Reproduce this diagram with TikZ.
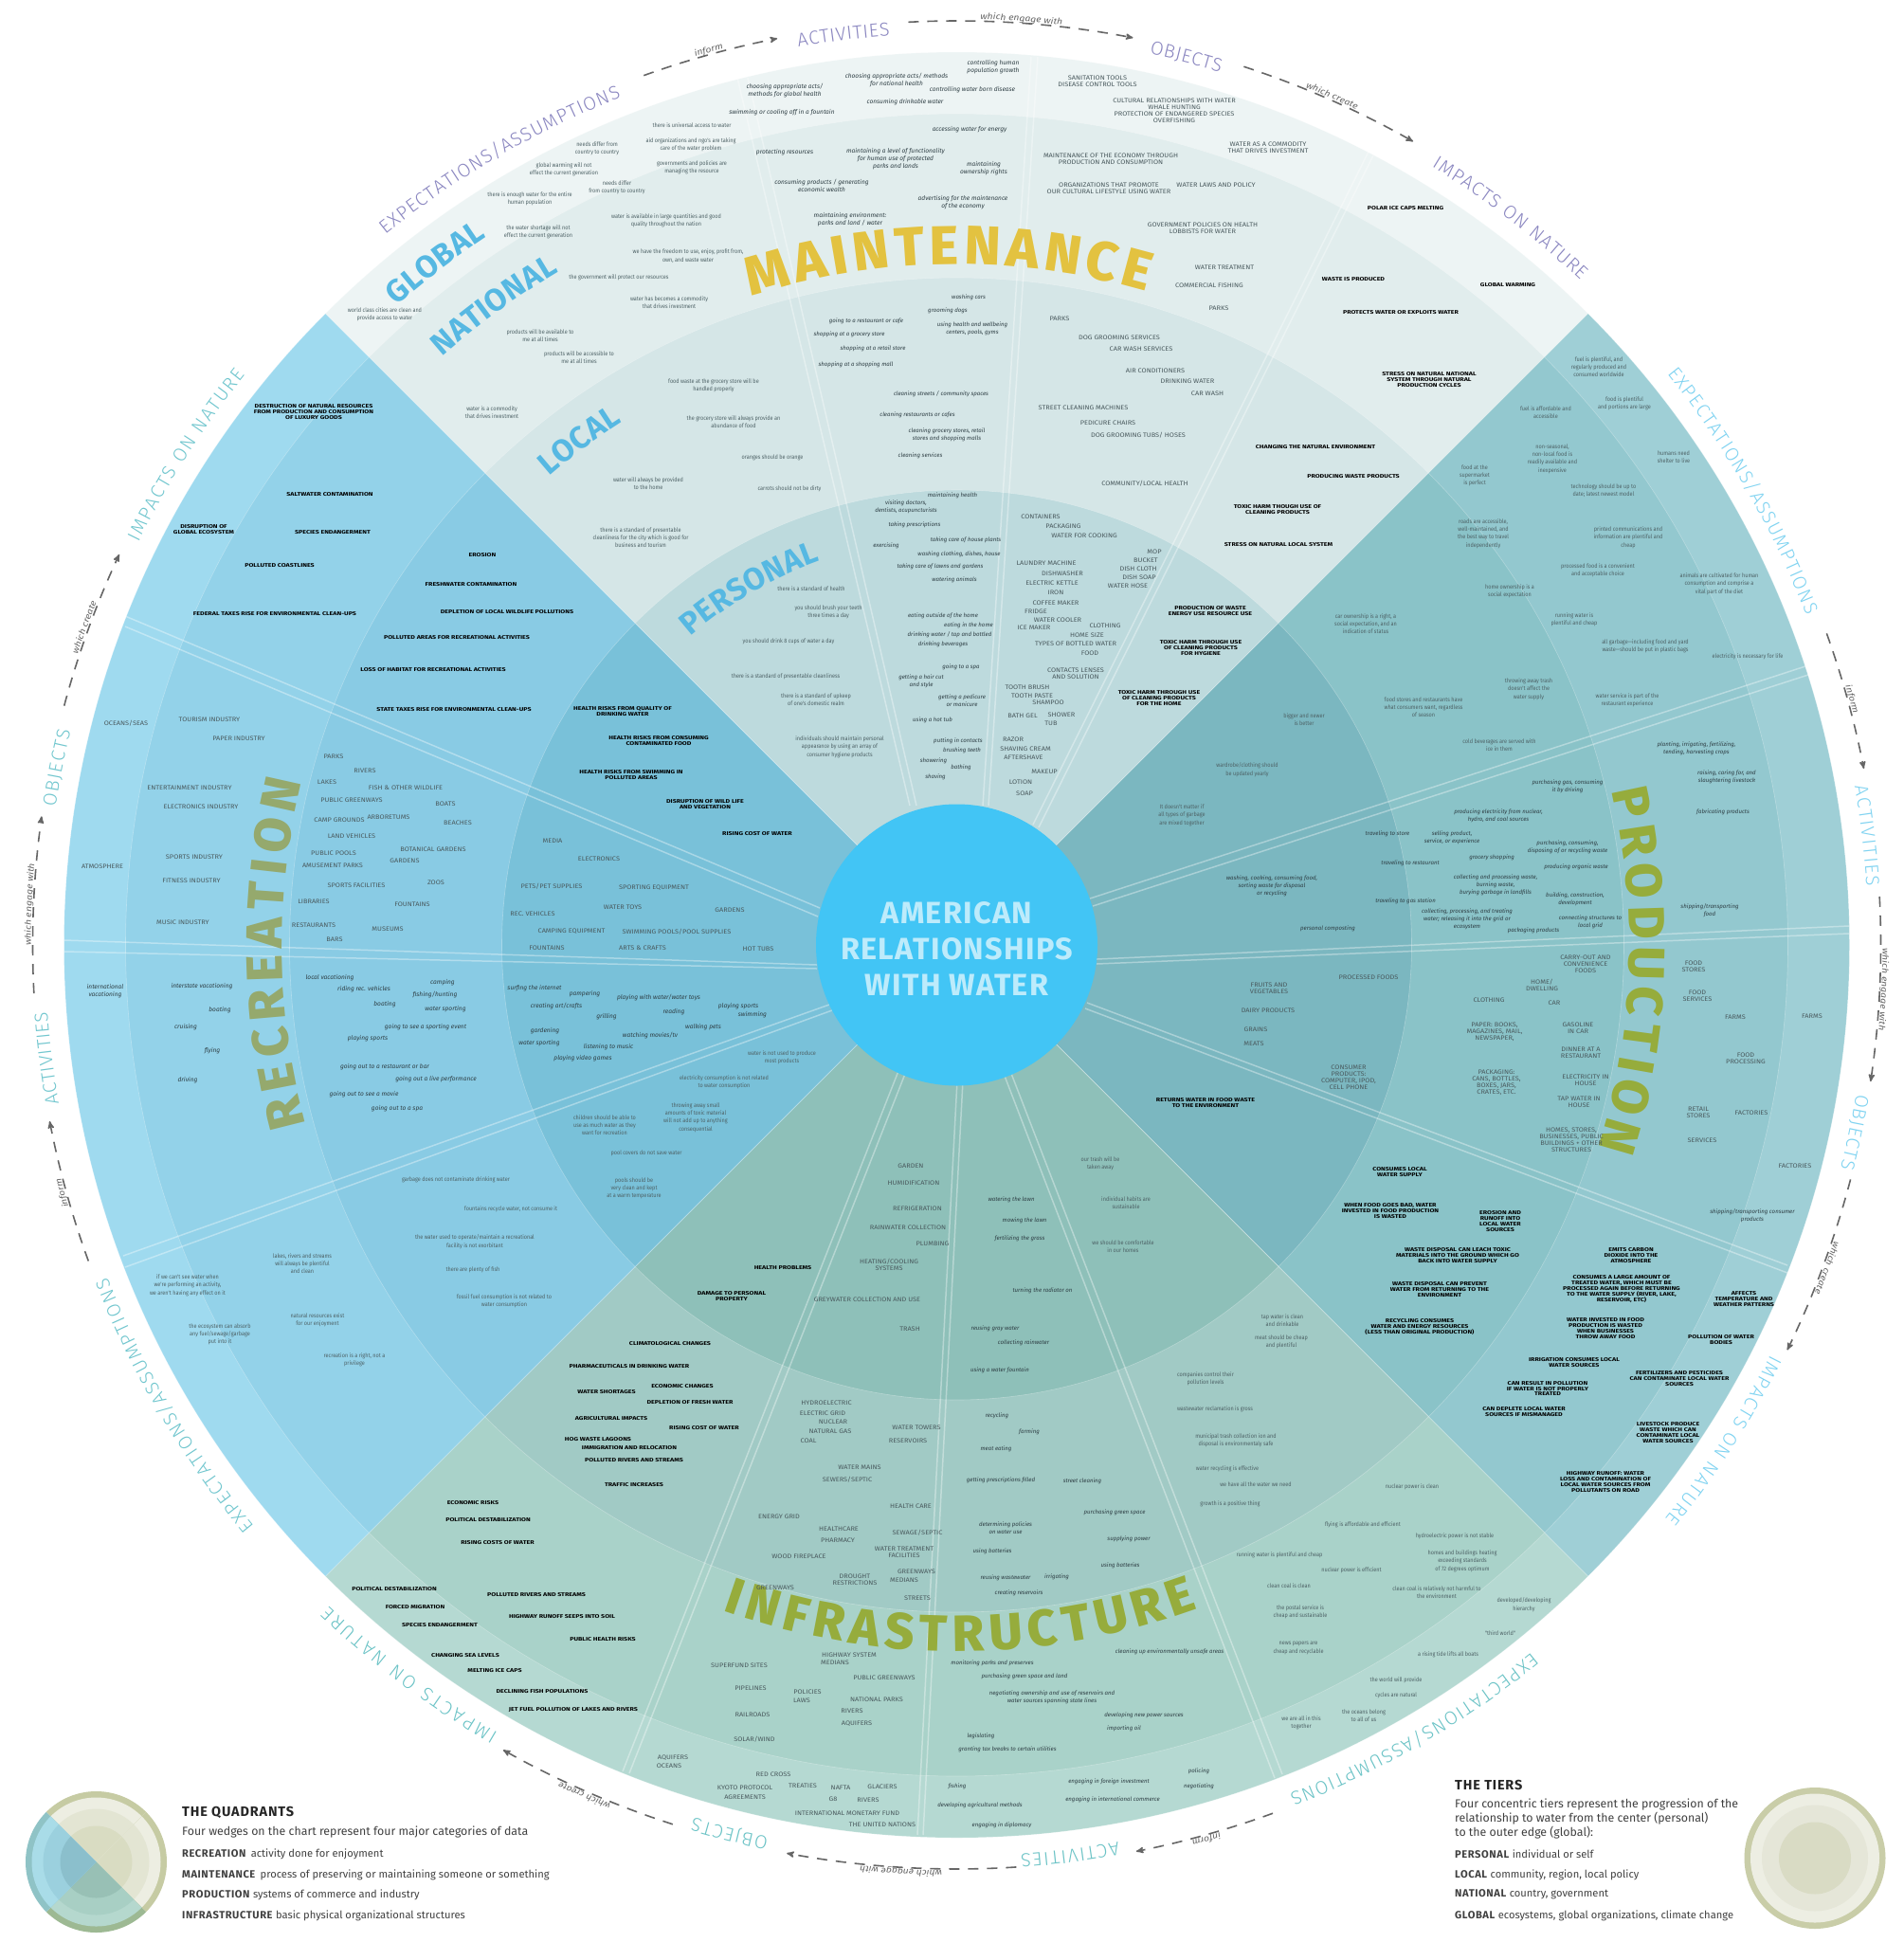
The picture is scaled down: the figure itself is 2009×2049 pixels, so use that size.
\documentclass[tikz,border=0pt]{standalone}
\usepackage{fontspec}
\usepackage{tikz}
\usetikzlibrary{
  calc,
  decorations.text,
  arrows
}
\setmainfont{Fira Sans}
\newfontfamily\saidface[FakeStretch=.88]{Fira Sans}
\newfontfamily\doingface{Fira Sans}
\newfontfamily\objectface[FakeStretch=1.12]{Fira Sans}
\newfontfamily\impactface[FakeStretch=1.27]{Fira Sans}
\newfontfamily\ringface{Fira Sans Light}
\newfontfamily\titleface{Fira Sans ExtraBold}
\newfontfamily\linkface[FakeStretch=1.15]{Fira Sans}
\definecolor{mainglobal}{HTML}{EDF4F4}
\definecolor{mainnational}{HTML}{E1EDED}
\definecolor{mainlocal}{HTML}{D5E6E7}
\definecolor{mainpersonal}{HTML}{BDDADD}
\definecolor{prodglobal}{HTML}{9FCFD6}
\definecolor{prodnational}{HTML}{93C8CF}
\definecolor{prodlocal}{HTML}{8AC3C8}
\definecolor{prodpersonal}{HTML}{7BB7C0}
\definecolor{infraglobal}{HTML}{B5D9D2}
\definecolor{infranational}{HTML}{A9D2C9}
\definecolor{infralocal}{HTML}{A1CAC5}
\definecolor{infrapersonal}{HTML}{8EC0B9}
\definecolor{recrglobal}{HTML}{9FDAEF}
\definecolor{recrnational}{HTML}{93D2E9}
\definecolor{recrlocal}{HTML}{89CBE4}
\definecolor{recrpersonal}{HTML}{79C1D9}
\definecolor{hubblue}{HTML}{42C5F5}
\definecolor{hubtext}{HTML}{BDEBFB}
\definecolor{gold}{HTML}{E3C240}
\definecolor{olive}{HTML}{96AC3C}
\definecolor{sage}{HTML}{95A96D}
\definecolor{tierblue}{HTML}{56B8E2}
\definecolor{ringtop}{HTML}{8A86C0}
\definecolor{ringright}{HTML}{7FD3F1}
\definecolor{ringbottom}{HTML}{6BC3C6}
\definecolor{ringleft}{HTML}{70C6CE}
\definecolor{linkgrey}{HTML}{666666}
\definecolor{saidgrey}{HTML}{4E6266}
\definecolor{objectgrey}{HTML}{4A5A5E}
\definecolor{doinggrey}{HTML}{2E3E44}
\newcommand{\titlegold}{\titleface\fontsize{58}{58}\selectfont\color{gold}}
\newcommand{\titleolive}{\titleface\fontsize{54}{54}\selectfont\color{olive}}
\newcommand{\titlesage}{\titleface\fontsize{54}{54}\selectfont\color{sage}}
\newcommand{\tiertype}{\bfseries\fontsize{33}{33}\selectfont\color{tierblue}}
\newcommand{\ringtype}{\ringface\fontsize{20}{20}\selectfont}
\newcommand{\linktype}{\linkface\itshape\fontsize{9}{9}\selectfont\color{linkgrey}}
\newcommand{\bendtext}[6][fit to path]{
    \path[decorate, decoration={text along path, text align={#1}, text={|#5|#6}}]
        (#2:#4) arc[start angle=#2, end angle=#3, radius=#4];
}
\newcommand{\ringlink}[4]{
    \coordinate (#4a) at (#1:975);
    \coordinate (#4b) at (#2:975);
    \draw[ringarrow] (#4a) arc[start angle=#1, end angle=#2, radius=975];
    \bendtext[center]{#1}{#2}{977}{\linktype}{#3}
}
\tikzset{
  wedgeedge/.style = {draw=white, draw opacity=.3, line width=.6},
  streak/.style = {draw=white, draw opacity=.36, line width=1.5},
  ringarrow/.style = {draw=linkgrey, line width=1.6, dash pattern=on 11bp off 9bp, ->, >=stealth'},
  saidtext/.style = {align=center, inner sep=0, text=saidgrey, font=\saidface\fontsize{6.3}{8.3}\selectfont},
  doingtext/.style = {align=center, inner sep=0, text=doinggrey, font=\doingface\itshape\fontsize{6.1}{7.8}\selectfont},
  doingwide/.style = {align=center, inner sep=0, text=doinggrey, font=\itshape\fontsize{6.6}{8}\selectfont},
  objecttext/.style = {align=center, inner sep=0, text=objectgrey, font=\objectface\fontsize{6.6}{7}\selectfont},
  impacttext/.style = {align=center, inner sep=0, text=black, font=\impactface\bfseries\fontsize{5.6}{6}\selectfont},
  hubdisc/.style = {circle, fill=hubblue, minimum size=297bp, inner sep=0},
  hubtitle/.style = {inner sep=0, align=center, text=hubtext,
    font=\addfontfeature{LetterSpace=4}\bfseries\fontsize{32.5}{38}\selectfont},
  legendhead/.style = {anchor=west, inner sep=0, text=black!85, font=\addfontfeature{LetterSpace=6}\bfseries\fontsize{14.5}{15}\selectfont},
  legendbody/.style = {anchor=west, inner sep=0, align=left, text=black!75, font=\fontsize{12.4}{15}\selectfont},
  legendterm/.style = {anchor=west, inner sep=0, text=black!75, font=\fontsize{11.2}{13}\selectfont}
}
\begin{document}
\begin{tikzpicture}[x=1bp, y=-1bp]
    \useasboundingbox (0,0) rectangle (2009,2049);
    \fill[white] (0,0) rectangle (2009,2049);

    \begin{scope}[shift={(1009.5,997)}, y=1bp]
        \foreach \from/\to/\wedge in {45/135/main, -45/45/prod, 225/315/infra, 135/225/recr}
            \foreach \radius/\tier in {942/global, 877/national, 704/local, 480/personal}
                \filldraw[wedgeedge, fill=\wedge\tier] (0,0) -- (\from:\radius)
                    arc[start angle=\from, end angle=\to, radius=\radius] -- cycle;
    \end{scope}

    \foreach \pa/\pb/\pc/\pd in {
        {960,850}/{778,82}/{967,850}/{789,82},
        {1037,850}/{1088,60}/{1043,850}/{1095,60},
        {1090,870}/{1444,160}/{1096,873}/{1449,164},
        {1150,948}/{1905,703}/{1153,956}/{1908,712},
        {1157,1012}/{1951,977}/{1157,1017}/{1951,985},
        {1147,1058}/{1886,1335}/{1145,1064}/{1886,1343},
        {1058,1130}/{1345,1876}/{1066,1130}/{1353,1872},
        {1010,1140}/{968,1936}/{1016,1140}/{974,1936},
        {948,1130}/{657,1869}/{955,1133}/{664,1871},
        {875,1060}/{130,1325}/{878,1066}/{132,1337},
        {862,1018}/{68,992}/{862,1022}/{68,1004},
        {865,958}/{132,650}/{863,967}/{132,661}}
        \draw[streak] (\pa) -- (\pb) (\pc) -- (\pd);

    \node[hubdisc] (hub) at (1009.5,997) {};
    \node[hubtitle] (hubname) at (1009.5,1001) {AMERICAN\\RELATIONSHIPS\\WITH WATER};

    \begin{scope}[shift={(1009.5,997)}, y=1bp]
        \bendtext{107.6}{73.8}{718}{\titlegold}{MAINTENANCE}
        \bendtext{13.2}{-17.6}{710}{\titleolive}{PRODUCTION}
        \bendtext{195.4}{166}{712}{\titlesage}{RECREATION}
        \bendtext{250.6}{290}{745}{\titleolive}{INFRASTRUCTURE}
        \bendtext{131.2}{123.6}{897}{\tiertype}{GLOBAL}
        \bendtext{131.2}{120.6}{825}{\tiertype}{NATIONAL}
        \bendtext{131}{122.6}{655}{\tiertype}{LOCAL}
        \bendtext{130.8}{109.6}{430}{\tiertype}{PERSONAL}

        \bendtext{128.8}{111.6}{962}{\ringtype\color{ringtop}}{EXPECTATIONS/ASSUMPTIONS}
        \bendtext{100}{94.2}{962}{\ringtype\color{ringtop}}{ACTIVITIES}
        \bendtext{77.8}{73.2}{962}{\ringtype\color{ringtop}}{OBJECTS}
        \bendtext{58.6}{46.8}{962}{\ringtype\color{ringtop}}{IMPACTS ON NATURE}
        \bendtext{38.8}{21.2}{962}{\ringtype\color{ringright}}{EXPECTATIONS/ASSUMPTIONS}
        \bendtext{10}{3.7}{962}{\ringtype\color{ringright}}{ACTIVITIES}
        \bendtext{-9.4}{-14.2}{962}{\ringtype\color{ringright}}{OBJECTS}
        \bendtext{-26.7}{-39}{962}{\ringtype\color{ringright}}{IMPACTS ON NATURE}
        \bendtext{-50.9}{-68.6}{962}{\ringtype\color{ringbottom}}{EXPECTATIONS/ASSUMPTIONS}
        \bendtext{-79.8}{-86}{962}{\ringtype\color{ringbottom}}{ACTIVITIES}
        \bendtext{-101.9}{-106.8}{962}{\ringtype\color{ringbottom}}{OBJECTS}
        \bendtext{-120.2}{-133.5}{962}{\ringtype\color{ringbottom}}{IMPACTS ON NATURE}
        \bendtext{219.6}{201.4}{962}{\ringtype\color{ringleft}}{EXPECTATIONS/ASSUMPTIONS}
        \bendtext{190}{184.2}{962}{\ringtype\color{ringleft}}{ACTIVITIES}
        \bendtext{171.3}{166.4}{962}{\ringtype\color{ringleft}}{OBJECTS}
        \bendtext{153.8}{141.3}{962}{\ringtype\color{ringleft}}{IMPACTS ON NATURE}

        \ringlink{109.8}{101.2}{inform}{topinform}
        \ringlink{93}{79}{which engage with}{topengage}
        \ringlink{71.9}{60.4}{which create}{topcreate}
        \ringlink{19.7}{11}{inform}{rightinform}
        \ringlink{3}{-8.5}{which engage with}{rightengage}
        \ringlink{-14.7}{-26}{which create}{rightcreate}
        \ringlink{-70}{-78.8}{inform}{bottominform}
        \ringlink{-86.3}{-100.6}{which engage with}{bottomengage}
        \ringlink{-107.9}{-119.4}{which create}{bottomcreate}
        \ringlink{200}{191}{inform}{leftinform}
        \ringlink{183}{172}{which engage with}{leftengage}
        \ringlink{165}{155}{which create}{leftcreate}
    \end{scope}

    \foreach \px/\py/\lbl [count=\i] in {
        730/132/{there is universal access to water},
        729/153/{aid organizations and ngo's are taking\\care of the water problem},
        630/157/{needs differ from\\country to country},
        730/177/{governments and policies are\\managing the resource},
        595/179/{global warming will not\\effect the current generation},
        651/198/{needs differ\\from country to country},
        559/210/{there is enough water for the entire\\human population},
        703/233/{water is available in large quantities and good\\quality throughout the nation},
        568/245/{the water shortage will not\\effect the current generation},
        726/270/{we have the freedom to use, enjoy, profit from,\\own, and waste water},
        653/293/{the  government will protect our resources},
        706/319/{water has becomes a commodity\\that drives investment},
        406/332/{world class cities are clean and\\provide access to water},
        570/354/{products will be available to\\me at all times},
        611/377/{products will be accessible to\\me at all times},
        753/407/{food waste at the grocery store will be\\handled properly},
        519/435/{water is a commodity\\that drives investment},
        774/445/{the grocery store will always provide an\\abundance of food},
        815/483/{oranges should be orange},
        684/510/{water will always be provided\\to the home},
        833/516/{carrots should not be dirty},
        676/567/{there is a standard of presentable\\cleanliness for the city which is good for\\business and tourism},
        856/621/{there is a standard of health},
        874/646/{you should brush your teeth\\three times a day},
        832/677/{you should drink 8 cups of water a day},
        829/714/{there is a standard of presentable cleanliness},
        861/738/{there is a standard of upkeep\\of one's domestic realm},
        886/788/{individuals should maintain personal\\appearance by using an array of\\consumer hygiene products},
        1687/387/{fuel is plentiful, and\\regularly produced and\\consumed worldwide},
        1714/426/{food is plentiful\\and portions are large},
        1631/435/{fuel is affordable and\\accessible},
        1766/482/{humans need\\shelter to live},
        1638/484/{non-seasonal,\\non-local food is\\readily available and\\inexpensive},
        1556/502/{food at the\\supermarket\\is perfect},
        1692/518/{technology should be up to\\date; latest newest model},
        1565/563/{roads are accessible,\\well-maintained, and\\the best way to travel\\independently},
        1718/567/{printed communications and\\information are plentiful and\\cheap},
        1686/602/{processed food is a convenient\\and acceptable choice},
        1814/616/{animals are cultivated for human\\consumption and comprise a\\vital part of the diet},
        1593/624/{home ownership is a\\social expectation},
        1661/654/{running water is\\plentiful and cheap},
        1736/682/{all garbage—including food and yard\\waste—should be put in plastic bags},
        1844/693/{electricity is necessary for life},
        1613/727/{throwing away trash\\doesn't affect the\\water supply},
        1717/739/{water service is part of the\\restaurant experience},
        1582/786/{cold beverages are served with\\ice in them},
        1441/658/{car ownership is a right, a\\social expectation, and an\\indication of status},
        1502/746/{food stores and restaurants have\\what consumers want, regardless\\of season},
        1376/759/{bigger and newer\\is better},
        1316/812/{wardrobe/clothing should\\be updated yearly},
        1247/860/{It doesn't matter if\\all types of garbage\\are mixed together},
        1161/1228/{our trash will be\\taken away},
        1188/1269/{individual habits are\\sustainable},
        1185/1315/{we should be comfortable\\in our homes},
        1353/1393/{tap water is clean\\and drinkable},
        1352/1416/{meat should be cheap\\and plentiful},
        1272/1455/{companies control their\\pollution levels},
        1282/1487/{wastewater reclamation is gross},
        1304/1520/{municipal trash collection ion and\\disposal is environmentaly safe},
        1295/1550/{water recycling is effective},
        1325/1566/{we have all the water we need},
        1298/1587/{growth is a positive thing},
        1490/1569/{nuclear power is clean},
        1438/1609/{flying is affordable and efficient},
        1535/1621/{hydroelectric power is not stable},
        1350/1641/{running water is plentiful and cheap},
        1543/1647/{homes and buildings heating\\exceeding standards\\of 72 degrees optimum},
        1426/1657/{nuclear power is efficient},
        1360/1673/{clean coal is clean},
        1516/1680/{clean coal is relatively not harmful to\\the environment},
        1372/1701/{the postal service is\\cheap and sustainable},
        1608/1693/{developed/developing\\hierarchy},
        1370/1739/{news papers are\\cheap and recyclable},
        1583/1723/{"third world"},
        1528/1746/{a rising tide lifts all boats},
        1473/1773/{the world will provide},
        1473/1789/{cycles are natural},
        1439/1810/{the oceans belong\\to all of us},
        1373/1818/{we are all in this\\together},
        825/1116/{water is not used to produce\\most products},
        764/1142/{electricity consumption is not related\\to water consumption},
        734/1179/{throwing away small\\amounts of toxic material\\will not add up to anything\\consequential},
        638/1187/{children should be able to\\use as much water as they\\want for recreation},
        682/1217/{pool covers do not save water},
        669/1254/{pools should be\\very clean and kept\\at a warm temperature},
        481/1245/{garbage does not contaminate drinking water},
        539/1276/{fountains recycle water, not consume it},
        501/1310/{the water used to operate/maintain a recreational\\facility is not exorbitant},
        319/1333/{lakes, rivers and streams\\will always be plentiful\\and clean},
        499/1340/{there are plenty of fish},
        532/1373/{fossil fuel consumption is not related to\\water consumption},
        198/1356/{if we can't see water when\\we're performing an activity,\\we aren't having any effect on it},
        335/1393/{natural resources exist\\for our enjoyment},
        232/1408/{the ecosystem can absorb\\any fuel/sewage/garbage\\put into it},
        374/1435/{recreation is a right, not a\\privilege}}
        \node[saidtext] (said\i) at (\px,\py) {\lbl};

    \foreach \px/\py/\lbl [count=\i] in {
        914/339/{going to a restaurant or cafe},
        896/353/{shopping at a grocery store},
        921/368/{shopping at a retail store},
        903/385/{shopping at a shopping mall},
        1022/314/{washing cars},
        1000/328/{grooming dogs},
        1026/347/{using health and wellbeing\\centers, pools, gyms},
        993/416/{cleaning streets / community spaces},
        968/438/{cleaning restaurants or cafes},
        999/459/{cleaning grocery stores, retail\\stores and shopping malls},
        971/481/{cleaning services},
        1005/523/{maintaining health},
        956/535/{visiting doctors,\\dentists, acupuncturists},
        965/554/{taking prescriptions},
        1019/570/{taking care of house plants},
        935/576/{exercising},
        1012/585/{washing clothing, dishes, house},
        992/598/{taking care of lawns and gardens},
        1007/612/{watering animals},
        995/650/{eating outside of the home},
        1022/660/{eating in the home},
        1002/670/{drinking water / tap and bottled},
        995/680/{drinking beverages},
        1014/704/{going to a spa},
        972/719/{getting a hair cut\\and style},
        1015/739/{getting a pedicure\\or manicure},
        984/760/{using a hot tub},
        1011/782/{putting in contacts},
        1015/792/{brushing teeth},
        985/803/{showering},
        1014/810/{bathing},
        987/820/{shaving},
        1790/790/{planting, irrigating, fertilizing,\\tending, harvesting crops},
        1822/820/{raising, caring for, and\\slaughtering livestock},
        1818/857/{fabricating products},
        1654/830/{purchasing gas, consuming\\it by driving},
        1581/861/{producing electricity from  nuclear,\\hydro, and coal sources},
        1532/884/{selling product,\\service, or experience},
        1654/894/{purchasing, consuming,\\disposing of or recycling waste},
        1574/905/{grocery shopping},
        1663/915/{producing organic waste},
        1578/934/{collecting and processing waste,\\burning waste,\\burying garbage in landfills},
        1662/949/{building, construction,\\development},
        1548/970/{collecting, processing, and treating\\water; releasing it into  the grid or\\ecosystem},
        1678/973/{connecting structures to\\local grid},
        1618/982/{packaging products},
        1804/961/{shipping/transporting\\food},
        1464/880/{traveling to store},
        1488/911/{traveling to restaurant},
        1483/951/{traveling to gas station},
        1342/935/{washing, cooking, consuming food,\\sorting waste for disposal\\or recycling},
        1401/980/{personal composting},
        1849/1283/{shipping/transporting consumer\\products},
        1067/1266/{watering the lawn},
        1081/1288/{mowing the lawn},
        1076/1307/{fertilizing the grass},
        1100/1362/{turning the radiator on},
        1050/1402/{reusing gray water},
        1080/1417/{collecting rainwater},
        1055/1446/{using a water fountain},
        1052/1494/{recycling},
        1086/1511/{farming},
        1051/1529/{meat eating},
        1056/1562/{getting prescriptions filled},
        1142/1563/{street cleaning},
        1176/1596/{purchasing green space},
        1061/1612/{determining policies\\on water use},
        1191/1624/{supplying power},
        1047/1637/{using batteries},
        1182/1652/{using batteries},
        1061/1665/{reusing wastewater},
        1115/1664/{irrigating},
        1075/1681/{creating reservoirs},
        1234/1743/{cleaning up environmentally unsafe areas},
        1047/1755/{monitoring parks and preserves},
        1081/1769/{purchasing green space and land},
        1110/1791/{negotiating ownership and use of reservoirs and\\water sources spanning state lines},
        1207/1810/{developing new power sources},
        1186/1824/{importing oil},
        1035/1832/{legislating},
        1063/1846/{granting tax breaks to certain utilities},
        1170/1880/{engaging in foreign investment},
        1265/1869/{policing},
        1010/1885/{fishing},
        1265/1885/{negotiating},
        1174/1899/{engaging in international commerce},
        1034/1905/{developing agricultural methods},
        1057/1926/{engaging in diplomacy}}
        \node[doingtext] (doing\i) at (\px,\py) {\lbl};

    \foreach \px/\py/\lbl [count=\i] in {
        828/96/{choosing appropriate acts/\\methods for global health},
        946/85/{choosing appropriate acts/ methods\\for national health},
        1048/71/{controlling human\\population growth},
        1026/95/{controlling water born disease},
        825/119/{swimming or cooling off in a fountain},
        955/108/{consuming drinkable water},
        1023/137/{accessing water for energy},
        828/161/{protecting resources},
        945/168/{maintaining a level of functionality\\for human use of protected\\parks and lands},
        1038/178/{maintaining\\ownership rights},
        867/196/{consuming products / generating\\economic wealth},
        1016/214/{advertising for the maintenance\\of the economy},
        897/232/{maintaining environment:\\parks and land / water},
        564/1043/{surfing the internet},
        617/1049/{pampering},
        695/1053/{playing with water/water toys},
        587/1062/{creating art/crafts},
        779/1062/{playing sports},
        711/1068/{reading},
        794/1071/{swimming},
        640/1073/{grilling},
        742/1084/{walking pets},
        575/1088/{gardening},
        686/1093/{watching movies/tv},
        569/1101/{water sporting},
        642/1105/{listening to music},
        615/1117/{playing video games},
        348/1032/{local vacationing},
        467/1037/{camping},
        384/1044/{riding rec. vehicles},
        459/1050/{fishing/hunting},
        213/1041/{interstate vacationing},
        406/1060/{boating},
        470/1065/{water sporting},
        232/1066/{boating},
        449/1084/{going to see a sporting event},
        196/1084/{cruising},
        388/1096/{playing sports},
        224/1109/{flying},
        406/1126/{going out to a restaurant or bar},
        460/1139/{going out a live performance},
        198/1140/{driving},
        384/1155/{going out to see a movie},
        419/1170/{going out to a spa},
        111/1046/{international\\vacationing}}
        \node[doingwide] (wide\i) at (\px,\py) {\lbl};

    \foreach \px/\py/\lbl [count=\i] in {
        1158/86/{SANITATION TOOLS\\DISEASE CONTROL TOOLS},
        1239/117/{CULTURAL RELATIONSHIPS  WITH WATER\\WHALE HUNTING\\PROTECTION OF ENDANGERED SPECIES\\OVERFISHING},
        1338/156/{WATER AS A COMMODITY\\THAT DRIVES INVESTMENT},
        1172/168/{MAINTENANCE OF THE ECONOMY THROUGH\\PRODUCTION AND CONSUMPTION},
        1170/199/{ORGANIZATIONS THAT PROMOTE\\OUR CULTURAL LIFESTYLE USING WATER},
        1283/195/{WATER LAWS AND POLICY},
        1269/241/{GOVERNMENT POLICIES ON HEALTH\\LOBBISTS FOR WATER},
        1292/282/{WATER TREATMENT},
        1276/301/{COMMERCIAL FISHING},
        1286/325/{PARKS},
        1118/336/{PARKS},
        1181/356/{DOG GROOMING SERVICES},
        1204/368/{CAR WASH SERVICES},
        1219/391/{AIR CONDITIONERS},
        1253/402/{DRINKING WATER},
        1274/415/{CAR WASH},
        1143/430/{STREET CLEANING MACHINES},
        1169/446/{PEDICURE CHAIRS},
        1201/459/{DOG GROOMING TUBS/ HOSES},
        1208/510/{COMMUNITY/LOCAL HEALTH},
        1098/545/{CONTAINERS},
        1122/555/{PACKAGING},
        1144/565/{WATER FOR COOKING},
        1218/582/{MOP},
        1209/591/{BUCKET},
        1201/600/{DISH CLOTH},
        1202/609/{DISH SOAP},
        1190/618/{WATER HOSE},
        1104/594/{LAUNDRY MACHINE},
        1121/605/{DISHWASHER},
        1110/615/{ELECTRIC KETTLE},
        1114/625/{IRON},
        1114/636/{COFFEE MAKER},
        1093/645/{FRIDGE},
        1116/654/{WATER COOLER},
        1091/662/{ICE MAKER},
        1166/660/{CLOTHING},
        1147/670/{HOME SIZE},
        1135/679/{TYPES OF BOTTLED WATER},
        1150/689/{FOOD},
        1135/711/{CONTACTS LENSES\\AND SOLUTION},
        1084/725/{TOOTH BRUSH},
        1089/734/{TOOTH PASTE},
        1106/741/{SHAMPOO},
        1079/755/{BATH GEL},
        1120/754/{SHOWER},
        1109/763/{TUB},
        1069/780/{RAZOR},
        1082/790/{SHAVING CREAM},
        1080/799/{AFTERSHAVE},
        1102/814/{MAKEUP},
        1077/825/{LOTION},
        1081/837/{SOAP},
        1673/1017/{CARRY-OUT AND\\CONVENIENCE\\FOODS},
        1787/1020/{FOOD\\STORES},
        1627/1039/{HOME/\\DWELLING},
        1444/1031/{PROCESSED FOODS},
        1339/1043/{FRUITS AND\\VEGETABLES},
        1791/1051/{FOOD\\SERVICES},
        1571/1055/{CLOTHING},
        1640/1058/{CAR},
        1338/1066/{DAIRY PRODUCTS},
        1831/1073/{FARMS},
        1912/1072/{FARMS},
        1325/1086/{GRAINS},
        1577/1089/{PAPER: BOOKS,\\MAGAZINES, MAIL,\\NEWSPAPER,},
        1665/1085/{GASOLINE\\IN CAR},
        1323/1101/{MEATS},
        1668/1111/{DINNER AT A\\RESTAURANT},
        1842/1117/{FOOD\\PROCESSING},
        1423/1137/{CONSUMER\\PRODUCTS:\\COMPUTER, IPOD,\\CELL PHONE},
        1579/1142/{PACKAGING:\\CANS, BOTTLES,\\BOXES, JARS,\\CRATES, ETC.},
        1673/1140/{ELECTRICITY IN\\HOUSE},
        1666/1163/{TAP WATER IN\\HOUSE},
        1792/1174/{RETAIL\\STORES},
        1848/1174/{FACTORIES},
        1796/1203/{SERVICES},
        1658/1203/{HOMES, STORES,\\BUSINESSES, PUBLIC\\BUILDINGS + OTHER\\STRUCTURES},
        1894/1230/{FACTORIES},
        961/1230/{GARDEN},
        964/1248/{HUMIDIFICATION},
        968/1275/{REFRIGERATION},
        958/1295/{RAINWATER COLLECTION},
        984/1312/{PLUMBING},
        938/1334/{HEATING/COOLING\\SYSTEMS},
        915/1371/{GREYWATER COLLECTION AND USE},
        960/1402/{TRASH},
        872/1480/{HYDROELECTRIC},
        868/1491/{ELECTRIC GRID},
        879/1500/{NUCLEAR},
        876/1510/{NATURAL GAS},
        853/1520/{COAL},
        967/1506/{WATER TOWERS},
        958/1520/{RESERVOIRS},
        907/1548/{WATER MAINS},
        894/1561/{SEWERS/SEPTIC},
        961/1589/{HEALTH CARE},
        822/1600/{ENERGY GRID},
        885/1613/{HEALTHCARE},
        968/1617/{SEWAGE/SEPTIC},
        884/1625/{PHARMACY},
        954/1638/{WATER TREATMENT\\FACILITIES},
        843/1642/{WOOD FIREPLACE},
        967/1658/{GREENWAYS},
        902/1667/{DROUGHT\\RESTRICTIONS},
        954/1667/{MEDIANS},
        968/1686/{STREETS},
        818/1675/{GREENWAYS},
        896/1746/{HIGHWAY SYSTEM},
        881/1754/{MEDIANS},
        780/1757/{SUPERFUND SITES},
        933/1770/{PUBLIC GREENWAYS},
        792/1781/{PIPELINES},
        852/1785/{POLICIES},
        846/1794/{LAWS},
        925/1793/{NATIONAL PARKS},
        899/1805/{RIVERS},
        794/1809/{RAILROADS},
        904/1819/{AQUIFERS},
        796/1835/{SOLAR/WIND},
        710/1855/{AQUIFERS},
        706/1863/{OCEANS},
        816/1872/{RED CROSS},
        847/1884/{TREATIES},
        786/1886/{KYOTO PROTOCOL},
        887/1886/{NAFTA},
        931/1885/{GLACIERS},
        786/1896/{AGREEMENTS},
        879/1898/{G8},
        916/1899/{RIVERS},
        894/1913/{INTERNATIONAL MONETARY FUND},
        931/1925/{THE UNITED NATIONS},
        133/763/{OCEANS/SEAS},
        221/759/{TOURISM INDUSTRY},
        252/779/{PAPER INDUSTRY},
        352/798/{PARKS},
        385/813/{RIVERS},
        345/825/{LAKES},
        200/831/{ENTERTAINMENT INDUSTRY},
        428/831/{FISH \& OTHER WILDLIFE},
        371/844/{PUBLIC GREENWAYS},
        470/848/{BOATS},
        212/851/{ELECTRONICS INDUSTRY},
        410/862/{ARBORETUMS},
        358/865/{CAMP GROUNDS},
        483/868/{BEACHES},
        371/882/{LAND VEHICLES},
        457/896/{BOTANICAL GARDENS},
        352/900/{PUBLIC POOLS},
        205/904/{SPORTS INDUSTRY},
        427/908/{GARDENS},
        351/913/{AMUSEMENT PARKS},
        108/914/{ATMOSPHERE},
        202/929/{FITNESS INDUSTRY},
        460/931/{ZOOS},
        376/934/{SPORTS FACILITIES},
        331/951/{LIBRARIES},
        435/954/{FOUNTAINS},
        193/973/{MUSIC INDUSTRY},
        331/976/{RESTAURANTS},
        409/980/{MUSEUMS},
        353/991/{BARS},
        583/887/{MEDIA},
        632/906/{ELECTRONICS},
        582/935/{PETS/PET SUPPLIES},
        690/937/{SPORTING EQUIPMENT},
        657/957/{WATER TOYS},
        770/960/{GARDENS},
        562/964/{REC. VEHICLES},
        603/983/{CAMPING EQUIPMENT},
        714/983/{SWIMMING POOLS/POOL SUPPLIES},
        577/1000/{FOUNTAINS},
        678/1000/{ARTS \& CRAFTS},
        800/1001/{HOT TUBS}}
        \node[objecttext] (object\i) at (\px,\py) {\lbl};

    \foreach \px/\py/\lbl [count=\i] in {
        1483/220/{POLAR ICE CAPS MELTING},
        1428/295/{WASTE IS PRODUCED},
        1591/301/{GLOBAL WARMING},
        1478/330/{PROTECTS WATER OR EXPLOITS WATER},
        1508/401/{STRESS ON NATURAL NATIONAL\\SYSTEM THROUGH NATURAL\\PRODUCTION CYCLES},
        1388/472/{CHANGING THE NATURAL ENVIRONMENT},
        1428/503/{PRODUCING WASTE PRODUCTS},
        1348/538/{TOXIC HARM THOUGH USE OF\\CLEANING PRODUCTS},
        1349/575/{STRESS ON NATURAL LOCAL SYSTEM},
        1277/645/{PRODUCTION OF WASTE\\ENERGY USE RESOURCE USE},
        1267/684/{TOXIC HARM THROUGH USE\\OF CLEANING PRODUCTS\\FOR HYGIENE},
        1223/737/{TOXIC HARM THROUGH USE\\OF CLEANING PRODUCTS\\FOR THE HOME},
        1272/1164/{RETURNS WATER IN FOOD WASTE\\TO THE ENVIRONMENT},
        1477/1237/{CONSUMES LOCAL\\WATER SUPPLY},
        1467/1278/{WHEN FOOD GOES BAD, WATER\\INVESTED IN FOOD PRODUCTION\\IS WASTED},
        1583/1289/{EROSION AND\\RUNOFF INTO\\LOCAL WATER\\SOURCES},
        1538/1325/{WASTE DISPOSAL CAN LEACH TOXIC\\MATERIALS INTO THE GROUND WHICH GO\\BACK INTO WATER SUPPLY},
        1721/1325/{EMITS CARBON\\DIOXIDE INTO THE\\ATMOSPHERE},
        1711/1360/{CONSUMES A LARGE AMOUNT OF\\TREATED WATER, WHICH MUST BE\\PROCESSED AGAIN BEFORE RETURNING\\TO THE WATER SUPPLY (RIVER, LAKE,\\RESERVOIR, ETC)},
        1519/1361/{WASTE DISPOSAL CAN PREVENT\\WATER FROM RETURNING TO THE\\ENVIRONMENT},
        1840/1371/{AFFECTS\\TEMPERATURE AND\\WEATHER PATTERNS},
        1498/1400/{RECYCLING CONSUMES\\WATER AND ENERGY RESOURCES\\(LESS THAN ORIGINAL PRODUCTION)},
        1694/1402/{WATER INVESTED IN FOOD\\PRODUCTION IS WASTED\\WHEN BUSINESSES\\THROW AWAY FOOD},
        1816/1414/{POLLUTION OF WATER\\BODIES},
        1661/1438/{IRRIGATION CONSUMES LOCAL\\WATER SOURCES},
        1772/1455/{FERTILIZERS AND PESTICIDES\\CAN CONTAMINATE LOCAL WATER\\SOURCES},
        1633/1465/{CAN RESULT IN POLLUTION\\IF WATER IS NOT PROPERLY\\TREATED},
        1608/1490/{CAN DEPLETE LOCAL WATER\\SOURCES IF MISMANAGED},
        1760/1512/{LIVESTOCK PRODUCE\\WASTE WHICH CAN\\CONTAMINATE LOCAL\\WATER SOURCES},
        1694/1564/{HIGHWAY RUNOFF: WATER\\LOSS AND CONTAMINATION OF\\LOCAL WATER SOURCES FROM\\POLLUTANTS ON ROAD},
        826/1338/{HEALTH PROBLEMS},
        772/1368/{DAMAGE TO PERSONAL\\PROPERTY},
        707/1418/{CLIMATOLOGICAL CHANGES},
        664/1442/{PHARMACEUTICALS IN DRINKING WATER},
        720/1463/{ECONOMIC CHANGES},
        640/1469/{WATER SHORTAGES},
        728/1480/{DEPLETION OF FRESH WATER},
        645/1497/{AGRICULTURAL IMPACTS},
        743/1507/{RISING COST OF WATER},
        631/1519/{HOG WASTE LAGOONS},
        664/1528/{IMMIGRATION AND RELOCATION},
        669/1541/{POLLUTED RIVERS AND STREAMS},
        669/1567/{TRAFFIC INCREASES},
        499/1586/{ECONOMIC RISKS},
        515/1604/{POLITICAL DESTABILIZATION},
        525/1628/{RISING COSTS OF WATER},
        416/1677/{POLITICAL DESTABILIZATION},
        566/1683/{POLLUTED RIVERS AND STREAMS},
        438/1696/{FORCED MIGRATION},
        593/1706/{HIGHWAY RUNOFF SEEPS INTO SOIL},
        464/1715/{SPECIES ENDANGERMENT},
        636/1730/{PUBLIC HEALTH RISKS},
        491/1747/{CHANGING SEA LEVELS},
        522/1763/{MELTING ICE CAPS},
        572/1785/{DECLINING FISH POPULATIONS},
        605/1804/{JET FUEL POLLUTION OF LAKES AND RIVERS},
        331/435/{DESTRUCTION OF NATURAL RESOURCES\\FROM PRODUCTION AND CONSUMPTION\\OF LUXURY GOODS},
        348/522/{SALTWATER CONTAMINATION},
        215/559/{DISRUPTION OF\\GLOBAL ECOSYSTEM},
        351/562/{SPECIES ENDANGERMENT},
        295/597/{POLLUTED COASTLINES},
        509/586/{EROSION},
        497/617/{FRESHWATER CONTAMINATION},
        290/648/{FEDERAL TAXES RISE FOR ENVIRONMENTAL CLEAN-UPS},
        535/646/{DEPLETION OF LOCAL WILDLIFE POLLUTIONS},
        482/673/{POLLUTED AREAS FOR RECREATIONAL ACTIVITIES},
        457/707/{LOSS OF HABITAT FOR RECREATIONAL ACTIVITIES},
        479/749/{STATE TAXES RISE FOR ENVIRONMENTAL CLEAN-UPS},
        657/751/{HEALTH RISKS FROM QUALITY OF\\DRINKING WATER},
        695/782/{HEALTH RISKS FROM CONSUMING\\CONTAMINATED FOOD},
        666/818/{HEALTH RISKS FROM SWIMMING IN\\POLLUTED AREAS},
        744/849/{DISRUPTION OF WILD LIFE\\AND VEGETATION},
        799/880/{RISING COST OF WATER}}
        \node[impacttext] (impact\i) at (\px,\py) {\lbl};

    \begin{scope}[shift={(101.5,1964.5)}, y=1bp]
        \foreach \from/\to/\rim/\pale/\mid/\deep in {
            45/135/C6CBA3/EDEEE2/E3E5D3/D9DCC2,
            -45/45/C6CBA3/EDEEE2/E3E5D3/D9DCC2,
            225/315/9DB993/B5D8CE/A8CFC4/98C0B5,
            135/225/8FC3C6/A9DCE8/9BD0DE/8BBFCC} {
            \definecolor{rimtone}{HTML}{\rim}
            \definecolor{paletone}{HTML}{\pale}
            \definecolor{midtone}{HTML}{\mid}
            \definecolor{deeptone}{HTML}{\deep}
            \fill[rimtone] (0,0) -- (\from:74.5) arc[start angle=\from, end angle=\to, radius=74.5] -- cycle;
            \fill[paletone] (0,0) -- (\from:68) arc[start angle=\from, end angle=\to, radius=68] -- cycle;
            \fill[midtone] (0,0) -- (\from:56) arc[start angle=\from, end angle=\to, radius=56] -- cycle;
            \fill[deeptone] (0,0) -- (\from:38) arc[start angle=\from, end angle=\to, radius=38] -- cycle;
        }
    \end{scope}
    \foreach \radius/\tone in {74.5/C9CDA8, 68/EDEEE3, 56/E5E6D8, 38/D9DBC4} {
        \definecolor{tierdisc}{HTML}{\tone}
        \fill[tierdisc] (1915,1960.5) circle[radius=\radius];
    }

    \node[legendhead] (quadhead) at (192,1912) {THE QUADRANTS};
    \node[legendbody] (quadbody) at (192,1933) {Four wedges on the chart represent four major categories of data};
    \foreach \py/\term/\lbl [count=\i] in {
        1956/RECREATION/{\ \,activity done for enjoyment},
        1978/MAINTENANCE/{\ \,process of preserving or maintaining someone or something},
        1999/PRODUCTION/{ systems of commerce and industry},
        2021/INFRASTRUCTURE/{ basic physical organizational structures}}
        \node[legendterm] (quad\i) at (192,\py) {\textbf{\addfontfeature{LetterSpace=5}\term}\lbl};
    \node[legendhead] (tierhead) at (1535,1883) {THE TIERS};
    \node[legendbody] (tierbody) at (1535,1919) {Four concentric tiers represent the progression of the\\relationship to water from the center (personal)\\to the outer edge (global):};
    \foreach \py/\term/\lbl [count=\i] in {
        1956/PERSONAL/{ individual or self},
        1978/LOCAL/{ community, region, local policy},
        1999/NATIONAL/{ country, government},
        2021/GLOBAL/{ ecosystems, global organizations, climate change}}
        \node[legendterm] (tier\i) at (1535,\py) {\textbf{\addfontfeature{LetterSpace=5}\term}\lbl};
\end{tikzpicture}
\end{document}
